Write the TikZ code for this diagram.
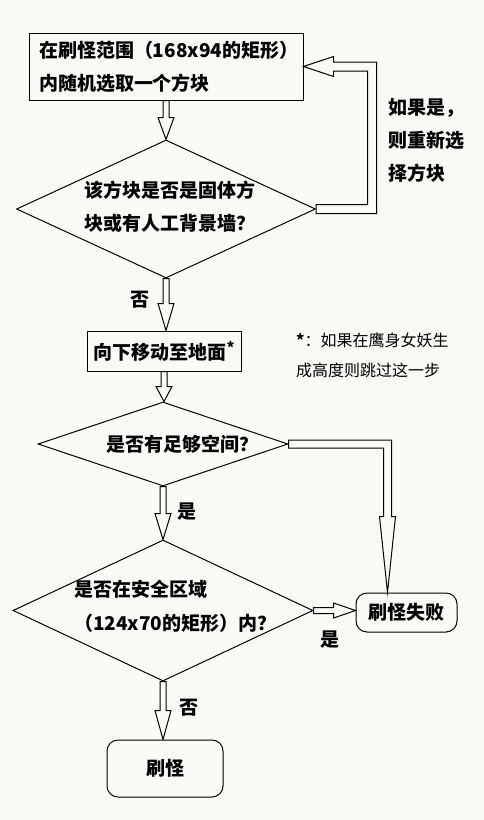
\documentclass[tikz,border=0pt]{standalone}
\usepackage{fontspec}
\setmainfont{Noto Sans CJK SC}
\usetikzlibrary{calc,shapes.geometric}
\definecolor{paper}{RGB}{248,251,246}

\tikzset{
  box/.style={draw,line width=1pt,inner sep=0pt,font=\fontsize{19}{33}\selectfont\bfseries},
  endbox/.style={box,rounded corners=11pt},
  ask/.style={draw,line width=1pt,diamond,inner sep=0pt},
  asktext/.style={anchor=west,inner sep=0pt,align=left,font=\fontsize{19}{33}\selectfont\bfseries},
  answer/.style={inner sep=0pt,font=\fontsize{19}{20}\selectfont\bfseries},
  blockline/.style={draw,line width=1pt,fill=paper,line join=miter}
}

% hollow block arrows
\newcommand{\blockdown}[3][24pt]{%
  \draw[blockline] let \p1=(#2), \p2=(#3) in
    (\x1-3pt,\y1) -- (\x1-3pt,\y2+#1) -- (\x1-8pt,\y2+#1) -- (\x1,\y2)
    -- (\x1+8pt,\y2+#1) -- (\x1+3pt,\y2+#1) -- (\x1+3pt,\y1) -- cycle;}
\newcommand{\blockright}[2]{%
  \draw[blockline] let \p1=(#1), \p2=(#2) in
    (\x1,\y1-3pt) -- (\x2-22pt,\y1-3pt) -- (\x2-22pt,\y1-7.5pt) -- (\x2,\y1)
    -- (\x2-22pt,\y1+7.5pt) -- (\x2-22pt,\y1+3pt) -- (\x1,\y1+3pt) -- cycle;}

\begin{document}
\begin{tikzpicture}[x=1pt,y=-1pt]
\useasboundingbox[fill=paper] (0,0) rectangle (484,820);

% boxes and questions
\node[box,text width=254pt,inner xsep=10pt,minimum height=67pt,align=left] (pick) at (166,66.5)
  {在刷怪范围（168x94的矩形）\\内随机选取一个方块};
\node[ask,minimum width=299pt,minimum height=138pt] (q1) at (166,209) {};
\node[asktext] (q1text) at (84,206.5) {该方块是否是固体方\\块或有人工背景墙？};

\node[box,minimum width=154pt,minimum height=40pt] (move) at (164,351)
  {向下移动至地面\raisebox{6pt}{\fontsize{15}{15}\selectfont*}};
\node[ask,minimum width=250pt,minimum height=84pt] (q2) at (163,444) {};
\node[asktext] (q2text) at (106,444) {是否有足够空间？};

\node[ask,minimum width=300pt,minimum height=141pt] (q3) at (163,610.5) {};
\node[asktext,font=\fontsize{19}{34}\selectfont\bfseries] (q3text) at (74,606) {是否在安全区域\\（124x70的矩形）内？};

\node[endbox,minimum width=101pt,minimum height=39pt] (fail) at (406.5,612.5) {刷怪失败};
\node[endbox,minimum width=116pt,minimum height=57pt] (spawn) at (165,768.5) {刷怪};

% side texts
\node[anchor=west,inner sep=0pt,align=left,font=\fontsize{19}{33}\selectfont\bfseries] (again) at (388,140)
  {如果是，\\则重新选\\择方块};
\node[anchor=west,inner sep=0pt,align=left,font=\fontsize{16}{30}\selectfont] (note) at (296,355)
  {{\bfseries*}：如果在鹰身女妖生\\成高度则跳过这一步};

% arrows
\blockdown[22pt]{pick.south}{q1.north}
\blockdown[27pt]{q1.south}{move.north}
\blockdown[15pt]{move.south}{q2.north}
\blockdown[26pt]{q2.south}{q3.north}
\blockdown[29pt]{q3.south}{spawn.north}
\blockright{q3.east}{fail.west}

\draw[blockline] let \p1=(q1.east), \p2=(pick.east), \n1={\x1+56pt} in
  (\x1,\y1+4.5pt) -- (\n1-4.5pt,\y1+4.5pt) -- (\n1-4.5pt,\y2-4.5pt) -- (\x2+30pt,\y2-4.5pt)
  -- (\x2+30pt,\y2-10pt) -- (\x2,\y2) -- (\x2+30pt,\y2+10pt) -- (\x2+30pt,\y2+4.5pt)
  -- (\n1+4.5pt,\y2+4.5pt) -- (\n1+4.5pt,\y1-4.5pt) -- (\x1,\y1-4.5pt) -- cycle;

\draw[blockline] let \p1=(q2.east), \p2=(fail.north), \n1={\x1+99pt} in
  (\x1,\y1+4pt) -- (\n1+4pt,\y1+4pt) -- (\n1+4pt,\y2+76pt) -- (\n1+8pt,\y2+76pt) -- (\n1,\y2)
  -- (\n1-8pt,\y2+76pt) -- (\n1-4pt,\y2+76pt) -- (\n1-4pt,\y1-4pt) -- (\x1,\y1-4pt) -- cycle;

% answers
\node[answer] (no1) at (140,300) {否};
\node[answer] (yes2) at (187,512) {是};
\node[answer] (yes3) at (330,640) {是};
\node[answer] (no3) at (189,708) {否};
\end{tikzpicture}
\end{document}
